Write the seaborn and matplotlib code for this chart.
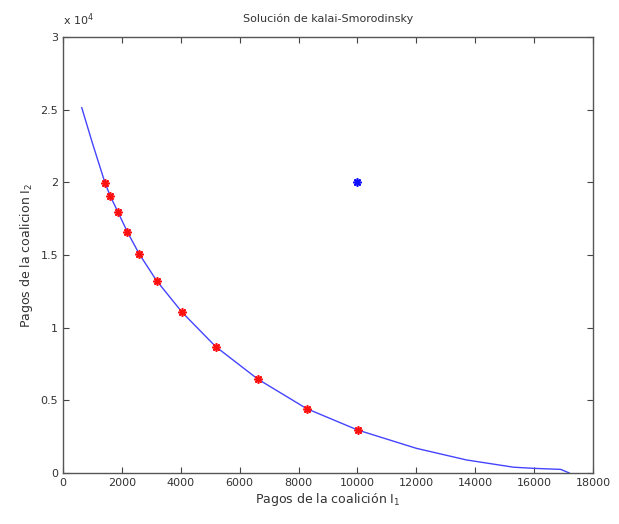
import matplotlib
matplotlib.use("Agg")
import matplotlib.pyplot as plt
from matplotlib.ticker import FuncFormatter
import seaborn as sns
import pandas as pd

# Frontier of feasible payoffs (coalition I1 vs coalition I2)
frontier_x = [635, 1000, 1426, 1606, 1868, 2184, 2591, 3182, 4051, 5186, 6612,
              8276, 10008, 12000, 13700, 15300, 16000, 16900, 17200]
frontier_y = [25160, 22700, 19975, 19060, 17960, 16600, 15070, 13230, 11050, 8700,
              6470, 4430, 2960, 1700, 900, 400, 320, 250, 0]

# Kalai-Smorodinsky iteration points
ks_x = [1426, 1606, 1868, 2184, 2591, 3182, 4051, 5186, 6612, 8276, 10008]
ks_y = [19975, 19060, 17960, 16600, 15070, 13230, 11050, 8700, 6470, 4430, 2960]

# Ideal point
ideal_x = [10000]
ideal_y = [20000]

x_ticks = [0, 2000, 4000, 6000, 8000, 10000, 12000, 14000, 16000, 18000]
y_ticks = [0, 5000, 10000, 15000, 20000, 25000, 30000]

title = "Solución de kalai-Smorodinsky"
xlabel = "Pagos de la coalición I$_1$"
ylabel = "Pagos de la coalicion I$_2$"

sns.set_style("white")
plt.rcParams["font.family"] = ["DejaVu Sans"]

fig = plt.figure(figsize=(6.19, 5.24), dpi=100)
ax = fig.add_axes([0.1018, 0.0973, 0.8562, 0.8317])

frontier = pd.DataFrame({"x": frontier_x, "y": frontier_y})
ks = pd.DataFrame({"x": ks_x, "y": ks_y})
ideal = pd.DataFrame({"x": ideal_x, "y": ideal_y})

sns.lineplot(data=frontier, x="x", y="y", sort=False, color="#4444ff",
             linewidth=1.0, ax=ax)
star = (8, 2, 0)
ax.plot(ks["x"], ks["y"], linestyle="none", marker=star, color="#ff1010",
        markersize=6, markeredgewidth=1.2)
ax.plot(ideal["x"], ideal["y"], linestyle="none", marker=star, color="#1010ff",
        markersize=6, markeredgewidth=1.2)

ax.set_xlim(0, 18000)
ax.set_ylim(0, 30000)
ax.set_xticks(x_ticks)
ax.set_yticks(y_ticks)
ax.yaxis.set_major_formatter(FuncFormatter(lambda v, p: f"{v/1e4:g}"))
ax.xaxis.set_major_formatter(FuncFormatter(lambda v, p: f"{v:g}"))

ax.tick_params(direction="in", length=4, width=0.8, colors="#444444",
               labelcolor="#333333", labelsize=8, top=True, right=True,
               bottom=True, left=True)
for s in ax.spines.values():
    s.set_color("#555555")
    s.set_linewidth(1.0)

ax.set_title(title, fontsize=8, color="#333333", pad=11)
ax.set_xlabel(xlabel, fontsize=9, color="#333333", labelpad=2)
ax.set_ylabel(ylabel, fontsize=9, color="#333333", labelpad=4)
ax.text(0.0, 1.022, "x 10$^4$", transform=ax.transAxes, fontsize=8,
        color="#333333", ha="left", va="bottom")

fig.savefig("out.png", dpi=100)
